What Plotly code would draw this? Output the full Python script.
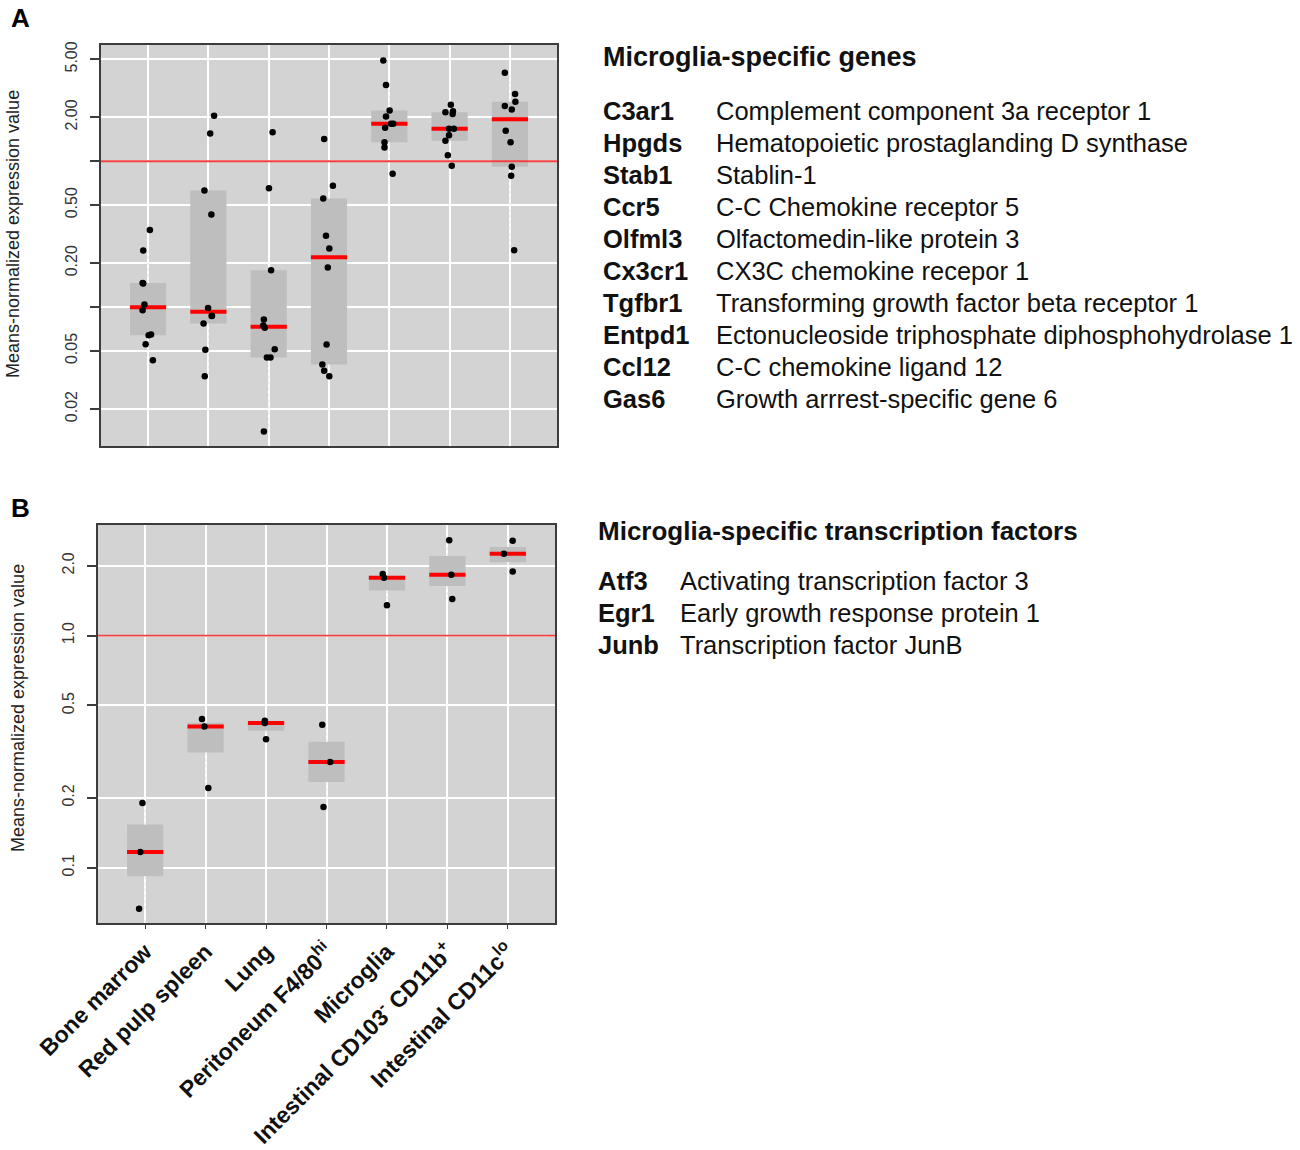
import numpy as np
import plotly.graph_objects as go

# ---------------- data ----------------
categories = ["Bone marrow", "Red pulp spleen", "Lung", "Peritoneum F4/80<sup>hi</sup>", "Microglia",
              "Intestinal CD103<sup>-</sup> CD11b<sup>+</sup>", "Intestinal CD11c<sup>lo</sup>"]

# Panel A: microglia-specific genes (10 genes per population)
a_bone_marrow = [0.337, 0.244, 0.146, 0.145, 0.104, 0.095, 0.0647, 0.064, 0.0556, 0.0432]
a_red_pulp = [2.05, 1.55, 0.63, 0.431, 0.0986, 0.087, 0.0868, 0.077, 0.051, 0.0335]
a_lung = [1.58, 0.654, 0.179, 0.082, 0.0747, 0.072, 0.0513, 0.045, 0.045, 0.014]
a_peritoneum = [1.42, 0.679, 0.555, 0.308, 0.252, 0.1867, 0.0553, 0.0403, 0.0365, 0.0335]
a_microglia = [4.9, 3.33, 2.23, 2.03, 1.81, 1.81, 1.70, 1.35, 1.24, 0.82]
a_cd103 = [2.44, 2.20, 2.17, 2.11, 1.67, 1.67, 1.51, 1.38, 1.10, 0.93]
a_cd11c = [4.05, 2.89, 2.56, 2.39, 2.26, 1.62, 1.35, 0.917, 0.795, 0.245]

# horizontal jitter of the dots
a_jit_bone_marrow = [0.03, -0.08, -0.09, -0.08, -0.06, -0.09, 0.05, 0.01, -0.04, 0.08]
a_jit_red_pulp = [0.095, 0.03, -0.065, 0.05, -0.005, 0.06, 0.055, -0.08, -0.05, -0.06]
a_jit_lung = [0.065, 0.005, 0.04, -0.08, -0.09, -0.065, 0.1, -0.03, 0.03, -0.08]
a_jit_peritoneum = [-0.08, 0.065, -0.095, -0.05, 0.005, -0.02, -0.04, -0.11, -0.08, 0.005]
a_jit_microglia = [-0.1, -0.055, 0.005, -0.055, 0.03, 0.065, -0.07, -0.08, -0.08, 0.055]
a_jit_cd103 = [0.02, 0.055, -0.07, 0.05, -0.01, 0.07, -0.01, -0.07, -0.03, 0.035]
a_jit_cd11c = [-0.085, 0.085, 0.09, -0.085, 0.03, -0.07, 0.01, 0.03, 0.02, 0.07]

# Panel B: microglia-specific transcription factors (3 genes per population)
b_bone_marrow = [0.190, 0.117, 0.0666]
b_red_pulp = [0.437, 0.406, 0.2206]
b_lung = [0.43, 0.42, 0.358]
b_peritoneum = [0.413, 0.2854, 0.1828]
b_microglia = [1.842, 1.776, 1.35]
b_cd103 = [2.578, 1.830, 1.438]
b_cd11c = [2.562, 2.252, 1.891]

b_jit_bone_marrow = [-0.045, -0.08, -0.1]
b_jit_red_pulp = [-0.06, -0.02, 0.045]
b_jit_lung = [-0.02, -0.02, 0.0]
b_jit_peritoneum = [-0.07, 0.06, -0.05]
b_jit_microglia = [-0.07, -0.05, 0.0]
b_jit_cd103 = [0.03, 0.065, 0.08]
b_jit_cd11c = [0.08, -0.065, 0.08]

threshold = 1.0

a_y_ticks = [0.02, 0.05, 0.1, 0.2, 0.5, 1, 2, 5]
a_y_ticktext = ["0.02", "0.05", "", "0.20", "0.50", "", "2.00", "5.00"]
b_y_ticks = [0.1, 0.2, 0.5, 1, 2]
b_y_ticktext = ["0.1", "0.2", "0.5", "1.0", "2.0"]

genes_title = "Microglia-specific genes"
genes_a = ["C3ar1", "Hpgds", "Stab1", "Ccr5", "Olfml3", "Cx3cr1", "Tgfbr1", "Entpd1", "Ccl12", "Gas6"]
desc_a = ["Complement component 3a receptor 1", "Hematopoietic prostaglanding D synthase", "Stablin-1",
          "C-C Chemokine receptor 5", "Olfactomedin-like protein 3", "CX3C chemokine recepor 1",
          "Transforming growth factor beta receptor 1", "Ectonucleoside triphosphate diphosphohydrolase 1",
          "C-C chemokine ligand 12", "Growth arrrest-specific gene 6"]
tf_title = "Microglia-specific transcription factors"
genes_b = ["Atf3", "Egr1", "Junb"]
desc_b = ["Activating transcription factor 3", "Early growth response protein 1", "Transcription factor JunB"]

y_title = "Means-normalized expression value"

groups_a = [a_bone_marrow, a_red_pulp, a_lung, a_peritoneum, a_microglia, a_cd103, a_cd11c]
jits_a = [a_jit_bone_marrow, a_jit_red_pulp, a_jit_lung, a_jit_peritoneum, a_jit_microglia, a_jit_cd103, a_jit_cd11c]
groups_b = [b_bone_marrow, b_red_pulp, b_lung, b_peritoneum, b_microglia, b_cd103, b_cd11c]
jits_b = [b_jit_bone_marrow, b_jit_red_pulp, b_jit_lung, b_jit_peritoneum, b_jit_microglia, b_jit_cd103, b_jit_cd11c]

# ---------------- styling ----------------
W, H = 1300, 1150
FONT = "Liberation Sans, Arial, sans-serif"
PLOT_BG = "#d3d3d3"
BOX_FILL = "#bebebe"
BOX_W = 0.6


def px(x):
    return x / W


def py(y):
    return 1 - y / H


def fivenum(v):
    x = np.sort(np.asarray(v, float))
    n = len(x)
    n4 = np.floor((n + 3) / 2) / 2
    d = np.array([1, n4, (n + 1) / 2, n + 1 - n4, n]) - 1
    return 0.5 * (x[np.floor(d).astype(int)] + x[np.ceil(d).astype(int)])


fig = go.Figure()


def add_panel(groups, jits, xa, ya):
    stats = [fivenum(g) for g in groups]
    idx = list(range(len(groups)))
    q1 = [s[1] for s in stats]
    med = [s[2] for s in stats]
    q3 = [s[3] for s in stats]
    # boxes (fill only)
    fig.add_trace(go.Box(x=idx, q1=q1, median=med, q3=q3, lowerfence=q1, upperfence=q3,
                         width=BOX_W, fillcolor=BOX_FILL, line=dict(width=0, color=BOX_FILL),
                         boxpoints=False, hoverinfo="skip", showlegend=False,
                         xaxis=xa, yaxis=ya))
    # whiskers (faint dotted)
    wx, wy = [], []
    for i, g in enumerate(groups):
        arr = np.asarray(g, float)
        iqr = q3[i] - q1[i]
        hi = arr[arr <= q3[i] + 1.5 * iqr].max()
        lo = arr[arr >= q1[i] - 1.5 * iqr].min()
        wx += [i, i, None, i, i, None]
        wy += [q3[i], hi, None, q1[i], lo, None]
    fig.add_trace(go.Scatter(x=wx, y=wy, mode="lines", line=dict(color="#ececec", width=1.3, dash="dot"),
                             hoverinfo="skip", showlegend=False, xaxis=xa, yaxis=ya))
    # medians
    mx, my = [], []
    for i in idx:
        mx += [i - BOX_W / 2, i + BOX_W / 2, None]
        my += [med[i], med[i], None]
    fig.add_trace(go.Scatter(x=mx, y=my, mode="lines", line=dict(color="#ff0000", width=4),
                             hoverinfo="skip", showlegend=False, xaxis=xa, yaxis=ya))
    # points
    px_, py_ = [], []
    for i, (g, j) in enumerate(zip(groups, jits)):
        px_ += [i + jj for jj in j]
        py_ += list(g)
    fig.add_trace(go.Scatter(x=px_, y=py_, mode="markers", marker=dict(color="black", size=6.5),
                             showlegend=False, xaxis=xa, yaxis=ya))


add_panel(groups_a, jits_a, "x", "y")
add_panel(groups_b, jits_b, "x2", "y2")

for yr in ["y", "y2"]:
    xr = "x" if yr == "y" else "x2"
    fig.add_shape(type="line", xref=f"{xr} domain", x0=0, x1=1, yref=yr, y0=threshold, y1=threshold,
                  line=dict(color="#f04040", width=1.8), layer="above")

axis_common = dict(showline=True, mirror=True, linecolor="#3c3c3c", linewidth=2,
                   gridcolor="white", gridwidth=1.6, zeroline=False)

fig.update_layout(
    width=W, height=H,
    margin=dict(l=0, r=0, t=0, b=0),
    paper_bgcolor="white", plot_bgcolor=PLOT_BG,
    font=dict(family=FONT, color="#222"),
    xaxis=dict(domain=[px(101), px(557)], anchor="y", range=[-0.78, 6.78],
               tickvals=list(range(7)), showticklabels=False, ticks="", automargin=False, **axis_common),
    yaxis=dict(domain=[py(446), py(45)], anchor="x", type="log",
               range=[np.log10(0.01114), np.log10(6.27)],
               tickvals=a_y_ticks, ticktext=a_y_ticktext, ticks="outside", ticklen=9, tickwidth=1.5,
               tickcolor="#3c3c3c", tickangle=-90, ticklabelstandoff=7,
               tickfont=dict(size=16, color="#333"), automargin=False, **axis_common),
    xaxis2=dict(domain=[px(98), px(555)], anchor="y2", range=[-0.78, 6.78],
                tickvals=list(range(7)), ticktext=[f"<b>{c}</b>" for c in categories],
                tickangle=-45, ticks="outside", ticklen=4, tickcolor="#3c3c3c",
                tickfont=dict(size=23, color="#111"), automargin=False, **axis_common),
    yaxis2=dict(domain=[py(923), py(525)], anchor="x2", type="log",
                range=[np.log10(0.0578), np.log10(2.996)],
                tickvals=b_y_ticks, ticktext=b_y_ticktext, ticks="outside", ticklen=9, tickwidth=1.5,
                tickcolor="#3c3c3c", tickangle=-90, ticklabelstandoff=7,
                tickfont=dict(size=16, color="#333"), automargin=False, **axis_common),
)

ann = []
# panel letters
ann.append(dict(x=px(9), y=py(18), text="<b>A</b>", xanchor="left", font=dict(size=26, color="black")))
ann.append(dict(x=px(9), y=py(508), text="<b>B</b>", xanchor="left", font=dict(size=26, color="black")))
# y axis titles
ann.append(dict(x=px(13), y=py(234), text=y_title, textangle=-90, xanchor="center",
                font=dict(size=18, color="#222")))
ann.append(dict(x=px(18), y=py(708), text=y_title, textangle=-90, xanchor="center",
                font=dict(size=18, color="#222")))

# gene lists
ann.append(dict(x=px(601), y=py(57), text=f"<b>{genes_title}</b>", xanchor="left",
                font=dict(size=27, color="#111")))
for i, (g, d) in enumerate(zip(genes_a, desc_a)):
    yy = 111 + 32 * i
    ann.append(dict(x=px(601), y=py(yy), text=f"<b>{g}</b>", xanchor="left", font=dict(size=25.5, color="#111")))
    ann.append(dict(x=px(714), y=py(yy), text=d, xanchor="left", font=dict(size=25.5, color="#111")))
ann.append(dict(x=px(596), y=py(531), text=f"<b>{tf_title}</b>", xanchor="left",
                font=dict(size=26, color="#111")))
for i, (g, d) in enumerate(zip(genes_b, desc_b)):
    yy = 581 + 32 * i
    ann.append(dict(x=px(596), y=py(yy), text=f"<b>{g}</b>", xanchor="left", font=dict(size=25.5, color="#111")))
    ann.append(dict(x=px(678), y=py(yy), text=d, xanchor="left", font=dict(size=25.5, color="#111")))
for a in ann:
    a.update(xref="paper", yref="paper", showarrow=False, yanchor="middle")

fig.update_layout(annotations=ann)
fig.write_html("out.html", config={"displayModeBar": False},
               post_script="document.body.style.margin='0px';")
